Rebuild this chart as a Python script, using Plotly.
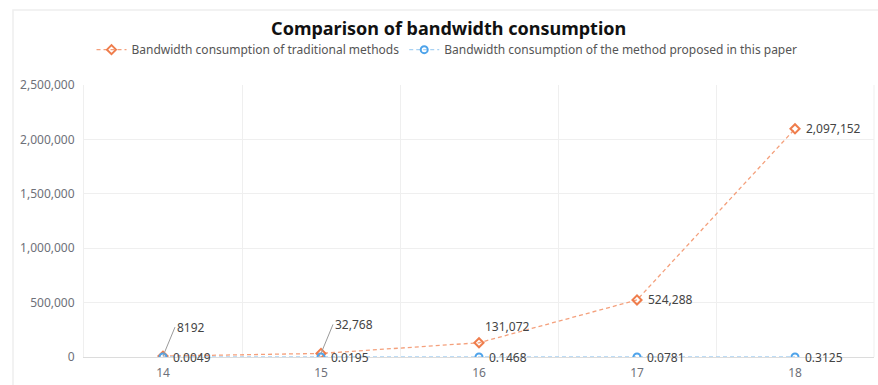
import plotly.graph_objects as go

categories = [14, 15, 16, 17, 18]
traditional = [8192, 32768, 131072, 524288, 2097152]
proposed = [0.0049, 0.0195, 0.1468, 0.0781, 0.3125]
trad_labels = ["8192", "32,768", "131,072", "524,288", "2,097,152"]
prop_labels = ["0.0049", "0.0195", "0.1468", "0.0781", "0.3125"]
y_ticks = [0, 500000, 1000000, 1500000, 2000000, 2500000]
y_tick_text = ["0", "500,000", "1,000,000", "1,500,000", "2,000,000", "2,500,000"]

ORANGE = "#ef7d4c"
BLUE = "#4ea3ea"
FONT = "Noto Sans"

fig = go.Figure()
fig.add_trace(go.Scatter(
    x=categories, y=traditional, mode="lines+markers",
    name="Bandwidth consumption of traditional methods",
    line=dict(color="#f4a07c", width=1.3, dash="4px,3px"),
    marker=dict(symbol="diamond-open", size=7, color=ORANGE, line=dict(width=2)),
))
fig.add_trace(go.Scatter(
    x=categories, y=proposed, mode="lines+markers",
    name="Bandwidth consumption of the method proposed in this paper",
    line=dict(color="#a9d2f3", width=1.3, dash="4px,3px"),
    marker=dict(symbol="circle-open", size=7, color=BLUE, line=dict(width=2)),
))

annotations = []
for i, (x, y, t) in enumerate(zip(categories, traditional, trad_labels)):
    if i < 2:
        annotations.append(dict(x=x, y=y, text=t, showarrow=True, arrowhead=0,
                                arrowwidth=1, arrowcolor="#9a9a9a",
                                ax=12, ay=-29, xanchor="left", yanchor="middle",
                                font=dict(size=12, color="#444", family=FONT)))
    elif i == 2:
        annotations.append(dict(x=x, y=y, text=t, showarrow=False,
                                xshift=4, yshift=16, xanchor="left", yanchor="middle",
                                font=dict(size=12, color="#444", family=FONT)))
    else:
        annotations.append(dict(x=x, y=y, text=t, showarrow=False,
                                xshift=9, xanchor="left", yanchor="middle",
                                font=dict(size=12, color="#444", family=FONT)))
for x, y, t in zip(categories, proposed, prop_labels):
    annotations.append(dict(x=x, y=y, text=t, showarrow=False,
                            xshift=8, xanchor="left", yanchor="middle",
                            font=dict(size=12, color="#444", family=FONT)))

fig.update_layout(
    width=878, height=385,
    margin=dict(l=84, r=4, t=85, b=28, autoexpand=False),
    paper_bgcolor="white", plot_bgcolor="white",
    font=dict(family=FONT, color="#6e7079", size=12),
    title=dict(text="<b>Comparison of bandwidth consumption</b>", x=0.511, xanchor="center",
               y=0.925, yanchor="middle", font=dict(size=18, color="#111", family=FONT)),
    showlegend=True,
    legend=dict(orientation="h", x=0.4595, xanchor="center",
                y=1.13, yanchor="middle",
                font=dict(size=12, color="#555", family=FONT), itemwidth=30,
                tracegroupgap=0),
    xaxis=dict(range=[13.5, 18.5], tickvals=categories, ticktext=[str(c) for c in categories],
               showgrid=False, zeroline=False, showline=True, linecolor="#dcdcdc",
               ticks="", ticklabelstandoff=5, tickfont=dict(size=12, color="#6e7079"),
               minor=dict(tick0=13.5, dtick=1, showgrid=True, gridcolor="#efefef", ticks="")),
    yaxis=dict(range=[0, 2500000], tickvals=y_ticks, ticktext=y_tick_text,
               showgrid=True, gridcolor="#efefef", zeroline=False, showline=True,
               linecolor="#efefef", ticks="", ticklabelstandoff=6,
               tickfont=dict(size=12, color="#6e7079")),
    annotations=annotations,
    shapes=[dict(type="rect", xref="paper", yref="paper", x0=-0.0899, x1=1.01, y0=-0.2, y1=1.276,
                 line=dict(color="#eeeeee", width=1.5), layer="below"),
            dict(type="line", xref="paper", yref="paper", x0=1, x1=1, y0=0, y1=1,
                 line=dict(color="#efefef", width=1))],
)

fig.write_html("out.html")
